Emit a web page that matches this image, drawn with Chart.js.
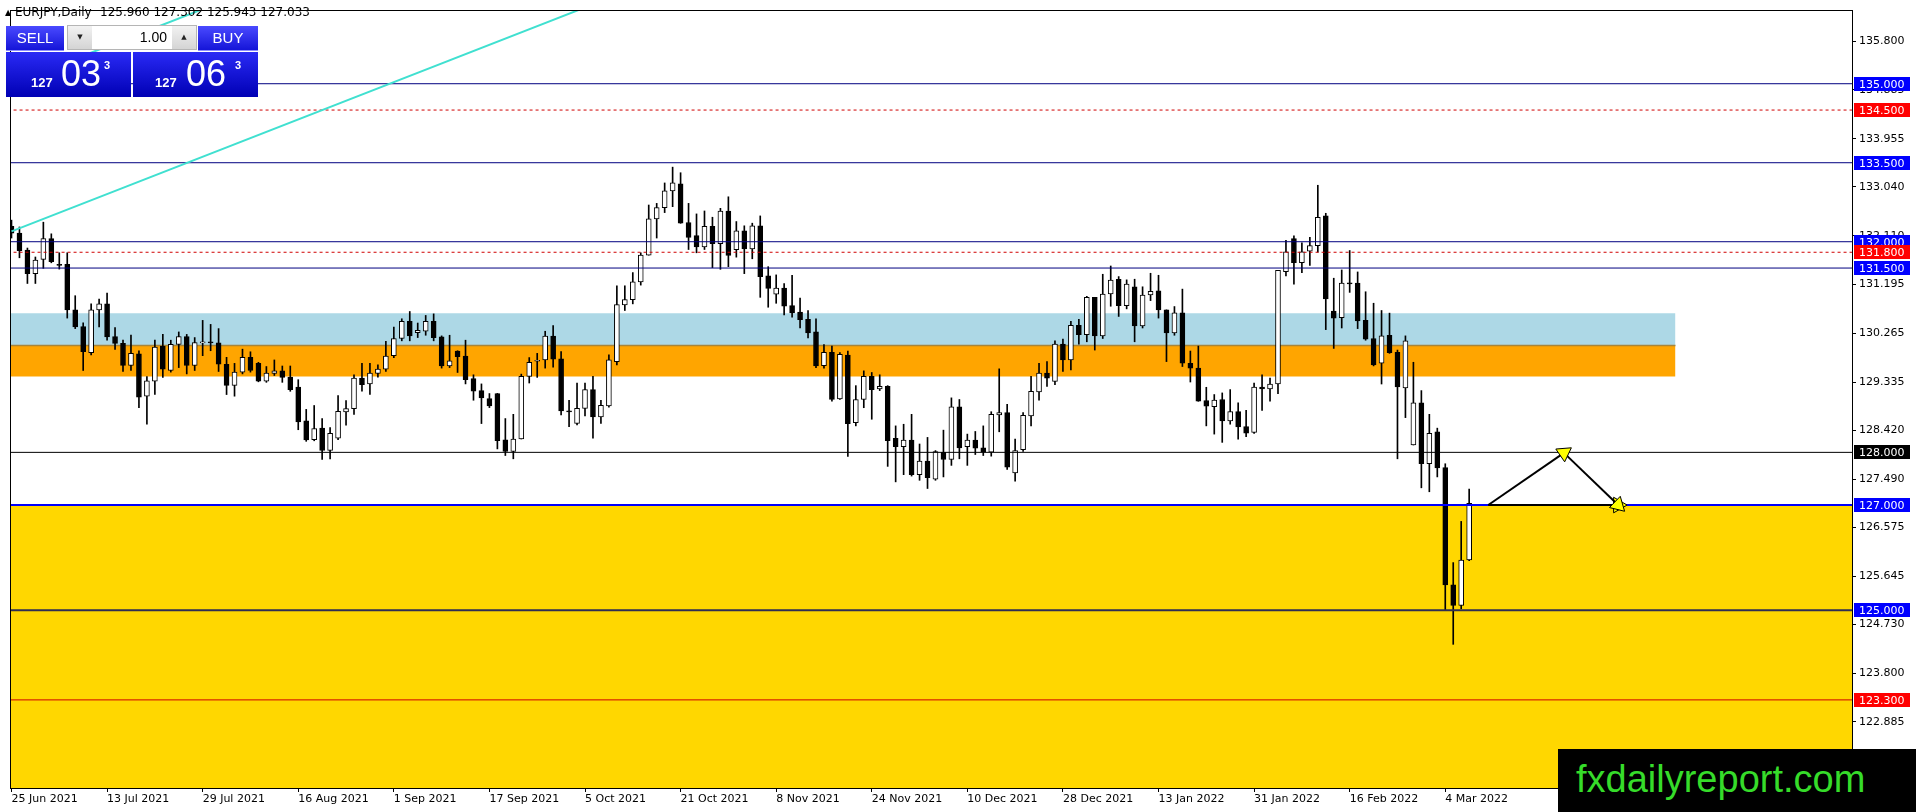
<!DOCTYPE html>
<html lang="en">
<head>
    <meta charset="UTF-8">
    <title>EURJPY,Daily</title>
    <style>
        body {
            margin: 0;
            background: #fff;
            overflow: hidden;
        }
        .wrap {
            position: relative;
            width: 1916px;
            height: 812px;
            font-family: "DejaVu Sans", sans-serif;
        }
        canvas {
            position: absolute;
            left: 0;
            top: 0;
        }
        .title {
            position: absolute;
            top: 5px;
            font-size: 12px;
            color: #000;
            white-space: pre;
        }
        .tri {
            position: absolute;
            left: 5px;
            top: 8px;
            font-size: 8px;
        }
        .panel div {
            position: absolute;
            box-sizing: border-box;
        }
        .btn {
            top: 26px;
            height: 25px;
            background: linear-gradient(#4a4aff, #1515d8);
            color: #fff;
            font-family: "Liberation Sans", sans-serif;
            font-size: 15px;
            line-height: 24px;
            text-align: center;
            border-bottom: 1px solid #8c8cff;
        }
        .lot {
            left: 67px;
            top: 25px;
            width: 130px;
            height: 25px;
            border: 1px solid #b5b5b5;
            background: #fff;
        }
        .lot .step {
            top: 0;
            width: 24px;
            height: 23px;
            background: linear-gradient(#f2f2f2, #d4d4d4);
            font-size: 7px;
            line-height: 23px;
            text-align: center;
            color: #222;
        }
        .lot .val {
            left: 25px;
            top: 0;
            width: 78px;
            height: 23px;
            font-family: "Liberation Sans", sans-serif;
            font-size: 14px;
            line-height: 23px;
            text-align: right;
            padding-right: 4px;
        }
        .quote {
            top: 52px;
            width: 125px;
            height: 45px;
            background: linear-gradient(#2a2af5, #0000b4);
            color: #fff;
            font-family: "Liberation Sans", sans-serif;
        }
        .quote span {
            position: absolute;
            line-height: 1;
            white-space: pre;
        }
        .small { font-size: 13px; font-weight: bold; top: 24px; }
        .large { font-size: 36px; top: 4px; }
        .sup { font-size: 11px; font-weight: bold; top: 8px; }
        .mark {
            position: absolute;
            left: 1558px;
            top: 749px;
            width: 358px;
            height: 63px;
            background: #000;
            color: #36dc2a;
            font-family: "Liberation Sans", Arial, sans-serif;
            font-size: 38px;
            line-height: 60px;
            padding-left: 18px;
            box-sizing: border-box;
        }
    </style>
</head>
<body>

<div class="wrap">
    <canvas id="chart" width="1916" height="812"></canvas>

    <div class="tri">&#9650;</div>
    <div class="title" style="left: 15px;">EURJPY,Daily</div>
    <div class="title" style="left: 100px;">125.960 127.302 125.943 127.033</div>

    <div class="panel">
        <div class="btn" style="left: 6px; width: 58px;">SELL</div>
        <div class="lot">
            <div class="step" style="left: 0;">&#9660;</div>
            <div class="val">1.00</div>
            <div class="step" style="left: 104px;">&#9650;</div>
        </div>
        <div class="btn" style="left: 198px; width: 60px;">BUY</div>
        <div class="quote" style="left: 6px;">
            <span class="small" style="left: 25px;">127</span>
            <span class="large" style="left: 55px;">03</span>
            <span class="sup" style="left: 98px;">3</span>
        </div>
        <div class="quote" style="left: 133px;">
            <span class="small" style="left: 22px;">127</span>
            <span class="large" style="left: 53px;">06</span>
            <span class="sup" style="left: 102px;">3</span>
        </div>
    </div>

    <div class="mark">fxdailyreport.com</div>
</div>

<script src="https://cdn.jsdelivr.net/npm/chart.js"></script>
<script>
    // daily candles, bar 0 = 25 Jun 2021, bar 183 = 9 Mar 2022
    const opens = [
        132.29, 132.165, 131.84, 131.395, 131.664, 132.058, 131.57, 131.57, 130.706, 130.39,
        129.893, 130.706, 130.82, 130.2, 130.07, 129.65, 129.87, 129.067, 129.35, 130.018,
        129.555, 130.05, 130.2, 129.65, 130.08, 130.085, 130.08, 129.674, 129.273, 129.524,
        129.805, 129.69, 129.35, 129.5, 129.55, 129.43, 129.242, 128.6, 128.24, 128.46,
        128.035, 128.27, 128.766, 128.83, 129.41, 129.298, 129.5, 129.58, 129.836, 130.162,
        130.487, 130.275, 130.3, 130.487, 130.193, 129.642, 129.924, 129.83, 129.4, 129.173,
        129.02, 129.117, 128.24, 128.016, 128.254, 129.442, 129.73, 129.755, 130.206, 129.774,
        128.78, 128.548, 128.836, 129.192, 128.673, 128.88, 129.724, 130.8, 130.9, 131.238,
        131.745, 132.434, 132.647, 132.966, 133.1, 132.365, 132.115, 131.9, 132.29, 131.964,
        132.584, 131.851, 132.208, 131.864, 132.302, 131.35, 131.006, 131.119, 130.787, 130.662,
        130.525, 130.287, 129.648, 129.899, 129.017, 129.849, 128.566, 129.004, 129.442, 129.204,
        129.255, 128.266, 128.11, 128.234, 127.577, 127.834, 127.49, 128.003, 127.865, 128.866,
        128.11, 128.234, 128.084, 128.003, 128.71, 128.754, 127.609, 128.053, 128.691, 129.148,
        129.505, 129.348, 130.055, 129.755, 130.412, 130.237, 130.944, 130.212, 131.007, 131.288,
        130.788, 131.144, 130.4, 130.988, 131.069, 130.706, 130.268, 130.65, 129.692, 129.6,
        128.985, 128.867, 129.004, 128.597, 128.773, 128.491, 128.378, 129.242, 129.204, 129.298,
        131.432, 132.058, 131.601, 131.82, 131.927, 132.49, 130.681, 130.556, 131.213, 131.213,
        130.506, 130.162, 129.692, 130.224, 129.899, 129.223, 128.14, 128.942, 127.784, 128.39,
        127.709, 125.487, 125.093, 125.960
    ];
    const highs = [
        132.41, 132.28, 131.88, 131.71, 132.371, 132.15, 131.79, 131.79, 130.975, 130.46,
        130.82, 130.913, 131.025, 130.37, 130.13, 130.225, 129.93, 129.44, 130.13, 130.243,
        130.13, 130.287, 130.24, 130.18, 130.506, 130.43, 130.35, 129.805, 129.69, 129.96,
        129.91, 129.71, 129.63, 129.755, 129.64, 129.64, 129.38, 128.816, 128.89, 128.64,
        128.47, 129.08, 128.985, 129.473, 129.69, 129.69, 129.66, 130.11, 130.38, 130.537,
        130.675, 130.456, 130.6, 130.63, 130.212, 130.224, 129.93, 130.13, 129.473, 129.3,
        129.117, 129.12, 128.642, 128.723, 129.486, 129.8, 129.88, 130.3, 130.41, 129.912,
        128.99, 129.317, 129.317, 129.442, 128.986, 129.85, 131.163, 131.163, 131.414, 131.79,
        132.697, 132.728, 133.116, 133.416, 133.31, 132.728, 132.528, 132.584, 132.465, 132.634,
        132.853, 132.383, 132.302, 132.352, 132.49, 131.526, 131.37, 131.207, 131.363, 130.931,
        130.694, 130.537, 130.049, 130.018, 129.893, 129.924, 129.267, 129.548, 129.517, 129.473,
        129.267, 128.503, 128.534, 128.722, 128.159, 128.284, 128.034, 128.422, 129.035, 129.004,
        128.347, 128.397, 128.503, 128.772, 129.586, 128.91, 128.253, 128.754, 129.442, 129.693,
        129.724, 130.118, 130.149, 130.487, 130.525, 130.963, 130.944, 131.382, 131.539, 131.338,
        131.276, 131.288, 131.144, 131.401, 131.363, 130.706, 130.769, 131.1, 129.924, 130.018,
        129.236, 129.098, 129.129, 129.192, 128.942, 128.798, 129.317, 129.473, 129.411, 131.457,
        132.027, 132.114, 131.977, 132.083, 133.072, 132.54, 131.307, 131.464, 131.833, 131.426,
        131.05, 130.832, 130.694, 130.644, 129.943, 130.212, 129.711, 129.173, 128.723, 128.46,
        127.784, 125.907, 126.689, 127.302
    ];
    const lows = [
        132.07, 131.695, 131.207, 131.207, 131.495, 131.6, 131.48, 130.55, 130.35, 129.555,
        129.85, 130.38, 130.13, 129.955, 129.536, 129.555, 128.848, 128.535, 129.1, 129.424,
        129.524, 129.61, 129.49, 129.555, 129.836, 129.93, 129.536, 129.098, 129.067, 129.49,
        129.524, 129.34, 129.33, 129.46, 129.33, 129.16, 128.43, 128.21, 128.22, 127.865,
        127.878, 128.24, 128.516, 128.72, 129.16, 129.1, 129.43, 129.536, 129.8, 130.118,
        130.118, 130.18, 130.224, 130.118, 129.6, 129.61, 129.517, 129.3, 128.99, 128.547,
        128.85, 128.066, 127.94, 127.878, 128.254, 129.317, 129.424, 129.6, 129.618, 128.71,
        128.49, 128.522, 128.692, 128.272, 128.548, 128.86, 129.662, 130.694, 130.82, 131.176,
        131.745, 132.07, 132.553, 132.665, 132.35, 131.852, 131.79, 131.852, 131.508, 131.476,
        131.526, 131.707, 131.394, 131.676, 130.944, 130.756, 130.831, 130.612, 130.568, 130.362,
        130.174, 129.61, 129.598, 128.972, 129.004, 127.921, 128.503, 128.848, 128.629, 129.173,
        127.734, 127.44, 127.577, 127.55, 127.47, 127.314, 127.47, 127.534, 127.753, 127.878,
        127.753, 127.959, 127.94, 127.928, 128.391, 127.677, 127.452, 128.016, 128.503, 128.992,
        129.254, 129.286, 129.536, 129.567, 130.056, 130.1, 129.943, 130.162, 130.775, 130.581,
        130.725, 130.1, 130.362, 130.882, 130.55, 129.724, 130.224, 129.63, 129.336, 128.97,
        128.503, 128.347, 128.19, 128.535, 128.253, 128.297, 128.36, 128.798, 128.973, 129.117,
        131.351, 131.195, 131.414, 131.551, 131.802, 130.331, 129.974, 130.362, 131.038, 130.35,
        130.13, 129.642, 129.298, 129.88, 127.878, 128.66, 128.14, 127.327, 127.252, 127.534,
        125.01, 124.355, 125.03, 125.943
    ];
    const closes = [
        132.16, 131.83, 131.395, 131.65, 132.058, 131.62, 131.55, 130.706, 130.38, 129.91,
        130.706, 130.82, 130.193, 130.07, 129.65, 129.88, 129.05, 129.36, 130.0, 129.58,
        130.05, 130.2, 129.65, 130.087, 130.085, 130.08, 129.674, 129.273, 129.524, 129.805,
        129.555, 129.35, 129.505, 129.55, 129.423, 129.19, 128.578, 128.235, 128.453, 128.035,
        128.36, 128.78, 128.83, 129.41, 129.286, 129.505, 129.58, 129.83, 130.162, 130.487,
        130.212, 130.318, 130.487, 130.18, 129.642, 129.736, 129.818, 129.38, 129.16, 129.035,
        128.88, 128.22, 128.016, 128.254, 129.442, 129.71, 129.74, 130.206, 129.768, 128.785,
        128.77, 128.836, 129.192, 128.673, 128.892, 129.755, 130.807, 130.9, 131.238, 131.745,
        132.434, 132.647, 132.966, 133.116, 132.352, 132.083, 131.9, 132.29, 131.964, 132.584,
        131.74, 132.208, 131.864, 132.302, 131.338, 131.113, 131.119, 130.775, 130.65, 130.518,
        130.268, 129.642, 129.899, 129.004, 129.861, 128.547, 129.004, 129.442, 129.192, 129.255,
        128.222, 128.11, 128.234, 127.577, 127.834, 127.521, 128.016, 127.865, 128.866, 128.084,
        128.234, 128.078, 128.003, 128.723, 128.754, 127.721, 128.034, 128.704, 129.16, 129.505,
        129.411, 130.055, 129.755, 130.412, 130.237, 130.944, 130.212, 131.007, 131.27, 130.788,
        131.194, 130.4, 130.988, 131.057, 130.706, 130.268, 130.65, 129.692, 129.6, 128.973,
        128.879, 128.992, 128.597, 128.773, 128.485, 128.366, 129.242, 129.204, 129.298, 131.457,
        131.808, 131.601, 131.808, 131.927, 132.465, 130.913, 130.55, 131.213, 131.2, 130.494,
        130.149, 129.661, 130.212, 129.893, 129.242, 130.118, 128.94, 127.784, 128.36, 127.703,
        125.481, 125.093, 125.957, 127.033
    ];

    const dateLabels = ['25 Jun 2021', '13 Jul 2021', '29 Jul 2021', '16 Aug 2021', '1 Sep 2021',
        '17 Sep 2021', '5 Oct 2021', '21 Oct 2021', '8 Nov 2021', '24 Nov 2021', '10 Dec 2021',
        '28 Dec 2021', '13 Jan 2022', '31 Jan 2022', '16 Feb 2022', '4 Mar 2022'];
    const dateBars = [0, 12, 24, 36, 48, 60, 72, 84, 96, 108, 120, 132, 144, 156, 168, 180];
    const priceTicks = [135.8, 134.885, 133.955, 133.04, 132.11, 131.195, 130.265, 129.335,
        128.42, 127.49, 126.575, 125.645, 124.73, 123.8, 122.885];

    // horizontal levels drawn on the chart
    const levelPrices = [135.0, 134.5, 133.5, 132.0, 131.8, 131.5, 128.0, 127.0, 125.0, 123.3];

    // zones (price ranges) and the bar where the small boxes stop
    const blueZone = [130.03, 130.64];
    const orangeZone = [129.44, 130.03];
    const yellowTop = 127.0;
    const zoneEndBar = 208.9;

    // trend line and the parallel one above it: [bar, price]
    const trendLine = [[0, 132.196], [80, 136.92]];
    const channelLine = [[0, 135.0], [30, 136.77]];

    // drawn arrows: start, peak, end
    const arrowStart = [185.4, 127.0];
    const arrowPeak = [194.9, 127.99];
    const arrowEnd = [201.7, 127.0];

    // look of each level, same order as levelPrices: colour, width, dash, tag colour
    const levelLook = [
        ['#000080', 1, [], '#0000ff'],
        ['#d00000', 1, [3, 3], '#ff0000'],
        ['#000080', 1, [], '#0000ff'],
        ['#000080', 1, [], '#0000ff'],
        ['#d00000', 1, [3, 3], '#ff0000'],
        ['#000080', 1, [], '#0000ff'],
        ['#000000', 1, [], '#000000'],
        ['#0000ff', 2, [], '#0000ff'],
        ['#2e2e52', 2, [], '#0000ff'],
        ['#d00000', 1, [], '#ff0000']
    ];

    const X_MIN = -0.1875;
    const X_MAX = 231.0625;

    function hLine(price, look) {
        return {
            type: 'line',
            data: [{x: -2, y: price}, {x: 240, y: price}],
            borderColor: look[0],
            borderWidth: look[1],
            borderDash: look[2],
            pointRadius: 0,
            fill: false,
            order: 3,
            clip: 0
        };
    }

    function arrowAngle(ctx) {
        const pts = ctx.dataset.data;
        const i = ctx.dataIndex;
        if (i === 0) return 0;
        const xs = ctx.chart.scales.x, ys = ctx.chart.scales.y;
        const dx = xs.getPixelForValue(pts[i].x) - xs.getPixelForValue(pts[i - 1].x);
        const dy = ys.getPixelForValue(pts[i].y) - ys.getPixelForValue(pts[i - 1].y);
        return Math.atan2(dx, -dy) * 180 / Math.PI;
    }

    function arrow(from, to) {
        return {
            type: 'line',
            data: [{x: from[0], y: from[1]}, {x: to[0], y: to[1]}],
            borderColor: '#000',
            borderWidth: 2,
            pointRadius: [0, 9],
            pointStyle: 'triangle',
            pointBackgroundColor: '#ffff00',
            pointBorderColor: '#000',
            pointBorderWidth: 1,
            pointRotation: arrowAngle,
            fill: false,
            order: 1,
            clip: 0
        };
    }

    const bars = opens.map((o, i) => i);

    const datasets = [
        // zones
        {
            type: 'line',
            data: [{x: -2, y: yellowTop}, {x: 240, y: yellowTop}],
            borderWidth: 0,
            pointRadius: 0,
            backgroundColor: '#ffd700',
            fill: 'start',
            order: 12
        },
        {
            type: 'line',
            data: [{x: -2, y: blueZone[1]}, {x: zoneEndBar, y: blueZone[1]}],
            borderWidth: 0,
            pointRadius: 0,
            backgroundColor: '#add8e6',
            fill: {value: blueZone[0]},
            order: 11
        },
        {
            type: 'line',
            data: [{x: -2, y: orangeZone[1]}, {x: zoneEndBar, y: orangeZone[1]}],
            borderColor: '#a8853a',
            borderWidth: 1.5,
            pointRadius: 0,
            backgroundColor: '#ffa500',
            fill: {value: orangeZone[0]},
            order: 10
        },
        // wicks
        {
            type: 'bar',
            data: bars.map(i => ({x: i, y: [lows[i], highs[i]]})),
            backgroundColor: '#000',
            borderWidth: 0,
            barThickness: 1,
            grouped: false,
            order: 5
        },
        // bodies
        {
            type: 'bar',
            data: bars.map(i => ({x: i, y: [opens[i], closes[i]]})),
            backgroundColor: bars.map(i => closes[i] > opens[i] ? '#ffffff' : '#000000'),
            borderColor: '#000',
            borderWidth: 1,
            borderSkipped: false,
            barThickness: 5,
            minBarLength: 1,
            grouped: false,
            order: 4
        },
        // trend lines
        {
            type: 'line',
            data: trendLine.map(p => ({x: p[0], y: p[1]})),
            borderColor: '#40e0d0',
            borderWidth: 2,
            pointRadius: 0,
            fill: false,
            order: 2
        },
        {
            type: 'line',
            data: channelLine.map(p => ({x: p[0], y: p[1]})),
            borderColor: '#40e0d0',
            borderWidth: 2,
            pointRadius: 0,
            fill: false,
            order: 2
        },
        arrow(arrowStart, arrowPeak),
        arrow(arrowPeak, arrowEnd),
        arrow(arrowStart, arrowEnd)
    ];
    levelPrices.forEach((p, i) => datasets.push(hLine(p, levelLook[i])));

    // white page + frame around the plot
    const framePlugin = {
        id: 'frame',
        beforeDraw(chart) {
            const ctx = chart.ctx;
            ctx.save();
            ctx.fillStyle = '#fff';
            ctx.fillRect(0, 0, chart.width, chart.height);
            ctx.restore();
        },
        afterDatasetsDraw(chart) {
            const a = chart.chartArea, ctx = chart.ctx;
            ctx.save();
            ctx.strokeStyle = '#000';
            ctx.lineWidth = 1;
            ctx.strokeRect(a.left + 0.5, a.top + 0.5, a.right - a.left, a.bottom - a.top);
            ctx.restore();
        }
    };

    // price tags of the levels on the right axis
    const tagPlugin = {
        id: 'tags',
        afterDraw(chart) {
            const ctx = chart.ctx, y = chart.scales.y, right = chart.chartArea.right;
            ctx.save();
            ctx.font = '11px "DejaVu Sans"';
            ctx.textAlign = 'left';
            ctx.textBaseline = 'middle';
            levelPrices.forEach((p, i) => {
                const py = Math.round(y.getPixelForValue(p));
                ctx.fillStyle = levelLook[i][3];
                ctx.fillRect(right + 2, py - 7, 56, 14);
                ctx.fillStyle = '#fff';
                ctx.fillText(p.toFixed(3), right + 7, py + 1);
            });
            ctx.restore();
        }
    };

    new Chart(document.getElementById('chart'), {
        type: 'bar',
        data: {datasets: datasets},
        options: {
            responsive: false,
            devicePixelRatio: 1,
            animation: false,
            events: [],
            layout: {padding: {left: 2, top: 1, right: 0, bottom: 0}},
            plugins: {
                legend: {display: false},
                tooltip: {enabled: false}
            },
            scales: {
                x: {
                    type: 'linear',
                    min: X_MIN,
                    max: X_MAX,
                    offset: false,
                    grid: {drawOnChartArea: false, offset: false, tickLength: 4, color: '#000'},
                    border: {color: '#000'},
                    ticks: {
                        autoSkip: false,
                        maxRotation: 0,
                        align: 'start',
                        padding: 1,
                        color: '#000',
                        font: {family: 'DejaVu Sans', size: 11},
                        callback: v => dateLabels[dateBars.indexOf(v)]
                    },
                    afterBuildTicks: s => { s.ticks = dateBars.map(v => ({value: v})); },
                    afterFit: s => { s.height = 24; }
                },
                y: {
                    type: 'linear',
                    position: 'right',
                    min: 121.627,
                    max: 136.40,
                    grid: {drawOnChartArea: false, tickLength: 4, color: '#000'},
                    border: {color: '#000'},
                    ticks: {
                        autoSkip: false,
                        padding: 3,
                        color: '#000',
                        font: {family: 'DejaVu Sans', size: 11},
                        callback: v => v.toFixed(3)
                    },
                    afterBuildTicks: s => { s.ticks = priceTicks.map(v => ({value: v})); },
                    afterFit: s => { s.width = 64; }
                }
            }
        },
        plugins: [framePlugin, tagPlugin]
    });
</script>

</body>
</html>
